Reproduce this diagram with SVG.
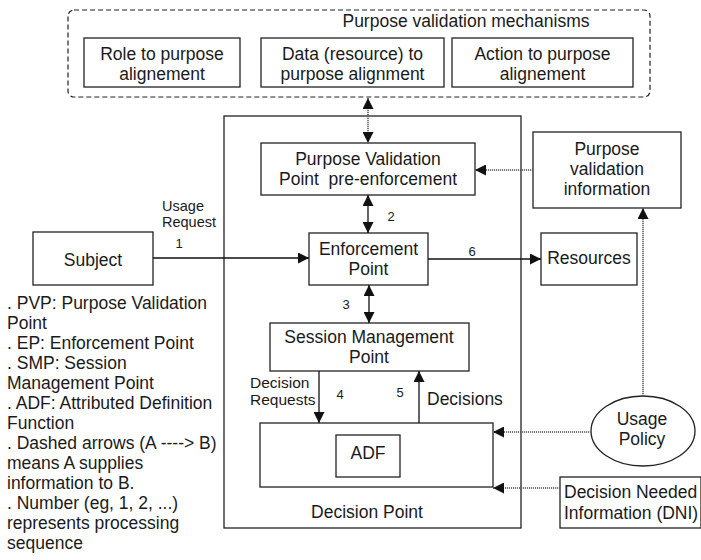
<svg xmlns="http://www.w3.org/2000/svg" width="701" height="560" viewBox="0 0 701 560">
<defs>
<style>
text{font-family:"Liberation Sans",Arial,Helvetica,sans-serif;fill:#1a1a1a;font-size:17.5px}
.c{text-anchor:middle}
.sm{font-size:15.5px}
.xs{font-size:14.5px}
.num{font-size:13px}
.box{fill:#fff;stroke:#222;stroke-width:1.3}
.frame{fill:none;stroke:#222;stroke-width:1.3}
.solid{fill:none;stroke:#111;stroke-width:1.3}
.dot{fill:none;stroke:#555;stroke-width:1.5;stroke-dasharray:1.2 0.8}
.dash{fill:none;stroke:#222;stroke-width:1.2;stroke-dasharray:5 3}
</style>
<marker id="ah" viewBox="0 0 12 12" refX="12" refY="6" markerWidth="12" markerHeight="11" markerUnits="userSpaceOnUse" orient="auto-start-reverse"><path d="M0,0L12,6L0,12z" fill="#111"/></marker>
</defs>
<rect width="701" height="560" fill="#fff"/>

<g id="mechanisms">
<rect class="dash" x="68" y="10" width="582" height="87" rx="6"/>
<text class="c" x="466" y="27">Purpose validation mechanisms</text>
</g>
<g id="role">
<rect class="box" x="84" y="38" width="156" height="49"/>
<text class="c" x="162" y="60">Role to purpose</text>
<text class="c" x="162" y="80">alignement</text>
</g>
<g id="data">
<rect class="box" x="261" y="38" width="183" height="49"/>
<text class="c" x="352.5" y="60">Data (resource) to</text>
<text class="c" x="352.5" y="80">purpose alignment</text>
</g>
<g id="action">
<rect class="box" x="452" y="38" width="181" height="49"/>
<text class="c" x="542.5" y="60">Action to purpose</text>
<text class="c" x="542.5" y="80">alignement</text>
</g>

<g id="container">
<rect class="frame" x="224" y="116" width="297" height="412"/>
</g>

<g id="pvp">
<rect class="box" x="261" y="143" width="214" height="52"/>
<text class="c" x="368" y="165">Purpose Validation</text>
<text class="c" x="368" y="185" xml:space="preserve">Point  pre-enforcement</text>
</g>
<g id="ep">
<rect class="box" x="309" y="233" width="119" height="52"/>
<text class="c" x="368.5" y="255">Enforcement</text>
<text class="c" x="368.5" y="275">Point</text>
</g>
<g id="smp">
<rect class="box" x="270" y="323" width="199" height="48"/>
<text class="c" x="369" y="343">Session Management</text>
<text class="c" x="369" y="363">Point</text>
</g>
<g id="decision-point">
<rect class="box" x="260" y="423" width="233" height="64"/>
<text class="c" x="367" y="518">Decision Point</text>
</g>
<g id="adf">
<rect class="box" x="336" y="435" width="64" height="42"/>
<text class="c" x="368" y="459">ADF</text>
</g>
<g id="subject">
<rect class="box" x="33" y="232" width="120" height="53"/>
<text class="c" x="93" y="266">Subject</text>
</g>
<g id="resources">
<rect class="box" x="541" y="233" width="96" height="52"/>
<text class="c" x="589" y="264">Resources</text>
</g>
<g id="pvi">
<rect class="box" x="533" y="132" width="148" height="76"/>
<text class="c" x="607" y="155">Purpose</text>
<text class="c" x="607" y="175">validation</text>
<text class="c" x="607" y="195">information</text>
</g>
<g id="usage-policy">
<ellipse class="box" cx="643" cy="431" rx="52" ry="35"/>
<text class="c" x="642" y="425">Usage</text>
<text class="c" x="642" y="445">Policy</text>
</g>
<g id="dni">
<rect class="box" x="560" y="477" width="141" height="51"/>
<text x="564" y="498">Decision Needed</text>
<text x="564" y="519">Information (DNI)</text>
</g>

<g id="connectors">
<line class="dot" x1="368" y1="98" x2="368" y2="143" marker-start="url(#ah)" marker-end="url(#ah)"/>
<line class="solid" x1="368" y1="195" x2="368" y2="233" marker-start="url(#ah)" marker-end="url(#ah)"/>
<line class="solid" x1="153" y1="258" x2="309" y2="258" marker-end="url(#ah)"/>
<line class="solid" x1="369" y1="285" x2="369" y2="323" marker-start="url(#ah)" marker-end="url(#ah)"/>
<line class="solid" x1="319" y1="371" x2="319" y2="423" marker-end="url(#ah)"/>
<line class="solid" x1="419" y1="423" x2="419" y2="371" marker-end="url(#ah)"/>
<line class="solid" x1="428" y1="259" x2="541" y2="259" marker-end="url(#ah)"/>
<line class="dot" x1="533" y1="170" x2="475" y2="170" marker-end="url(#ah)"/>
<line class="dot" x1="643" y1="396" x2="643" y2="208" marker-end="url(#ah)"/>
<line class="dot" x1="591" y1="432" x2="493" y2="432" marker-end="url(#ah)"/>
<line class="dot" x1="560" y1="488" x2="493" y2="488" marker-end="url(#ah)"/>
<text class="xs c" x="183" y="211">Usage</text>
<text class="xs c" x="189" y="227">Request</text>
<text class="num c" x="179" y="248">1</text>
<text class="num c" x="391" y="221">2</text>
<text class="num c" x="346" y="309">3</text>
<text class="num c" x="340" y="399">4</text>
<text class="num c" x="400" y="397">5</text>
<text class="num c" x="472" y="256">6</text>
<text class="sm" x="250" y="388">Decision</text>
<text class="sm" x="250" y="405">Requests</text>
<text x="427" y="405">Decisions</text>
</g>

<g id="legend">
<text x="7" y="309">. PVP: Purpose Validation</text>
<text x="7" y="329">Point</text>
<text x="7" y="349">. EP: Enforcement Point</text>
<text x="7" y="369">. SMP: Session</text>
<text x="7" y="389">Management Point</text>
<text x="7" y="409">. ADF: Attributed Definition</text>
<text x="7" y="429">Function</text>
<text x="7" y="449">. Dashed arrows (A ----&gt; B)</text>
<text x="7" y="469">means A supplies</text>
<text x="7" y="489">information to B.</text>
<text x="7" y="509">. Number (eg, 1, 2, ...)</text>
<text x="7" y="529">represents processing</text>
<text x="7" y="549">sequence</text>
</g>
</svg>
